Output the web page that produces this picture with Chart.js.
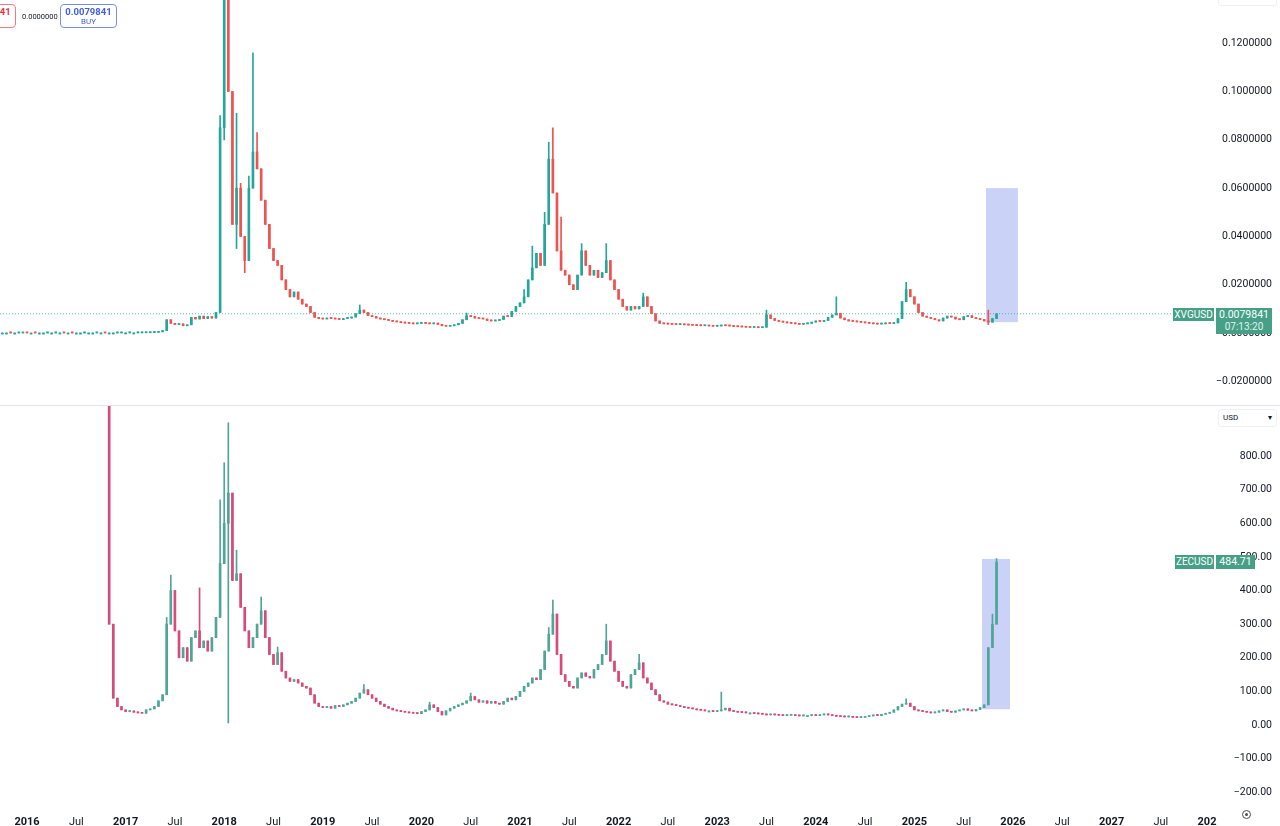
<!DOCTYPE html>
<html>
<head>
<meta charset="utf-8">
<title>XVGUSD / ZECUSD</title>
<script src="https://cdn.jsdelivr.net/npm/chart.js@4.4.1/dist/chart.umd.min.js"></script>
<style>
    body { margin: 0; width: 1280px; height: 826px; overflow: hidden; background: #fff; position: relative; font-family: Roboto, "Liberation Sans", sans-serif; color: #131722; }
    .pane { position: absolute; left: 0; width: 1280px; }
    #top-pane { top: 0; height: 405px; }
    #bottom-pane { top: 405px; height: 421px; }
    .sep { position: absolute; left: 0; top: 405px; width: 1280px; height: 1px; background: #e0e3eb; }
    .trade-btn { position: absolute; top: 4px; width: 55px; height: 22px; border: 1px solid; border-radius: 4px; background: #fff; text-align: center; line-height: 10px; }
    .trade-btn b { display: block; font-size: 9.5px; margin-top: 2px; }
    .trade-btn span { display: block; font-size: 8px; }
    .sell { left: -41px; border-color: #f07a82; color: #e8323f; }
    .buy { left: 60px; border-color: #7d8ee8; color: #4460dc; }
    .spread { position: absolute; left: 22px; top: 12px; font-size: 7.5px; }
    .tag { position: absolute; background: #46a088; color: #fff; font-size: 10px; line-height: 13px; text-align: center; }
    .dropdown { position: absolute; left: 1218px; width: 57px; border: 1px solid #eef0f5; border-radius: 3px; background: #fff; font-size: 8px; }
    .axis-cover { position: absolute; left: 1217px; top: 803px; width: 63px; height: 23px; background: #fff; }
    .gear { position: absolute; left: 1242px; top: 810px; width: 7px; height: 7px; border: 1.5px solid #4a4e59; border-radius: 50%; }
    .gear::after { content: ""; position: absolute; left: 2px; top: 2px; width: 3px; height: 3px; background: #4a4e59; border-radius: 50%; }
</style>
</head>
<body>
<div class="pane" id="top-pane"><canvas id="xvg-chart" width="1280" height="405"></canvas></div>
<div class="pane" id="bottom-pane"><canvas id="zec-chart" width="1280" height="421"></canvas></div>
<div class="sep"></div>

<div class="trade-btn sell"><b>0.0079841</b><span>SELL</span></div>
<div class="spread">0.0000000</div>
<div class="trade-btn buy"><b>0.0079841</b><span>BUY</span></div>

<div class="dropdown" style="top:-12px;height:16px"></div>
<div class="dropdown" style="top:409px;height:16px;line-height:16px"><span style="margin-left:4px">USD</span><span style="float:right;margin-right:4px">▾</span></div>

<div class="tag" id="xvg-name" style="left:1173px;width:41px">XVGUSD</div>
<div class="tag" id="xvg-price" style="left:1216px;width:56px;height:25px;line-height:12px;padding-top:1px;font-size:10.5px">0.0079841<br><span style="font-size:10px;opacity:.85">07:13:20</span></div>
<div class="tag" id="zec-name" style="left:1175px;width:39px;height:14px;line-height:14px">ZECUSD</div>
<div class="tag" id="zec-price" style="left:1216px;width:39px;height:14px;line-height:14px;font-size:10.5px">484.71</div>

<div class="axis-cover"></div>
<div class="gear"></div>

<script>
// time axis: candles are half-month periods counted from firstPeriodYear
const firstPeriodYear = 2015.75;
const periodsPerYear = 24;
const timeMin = 2015.726;
const timeMax = 2028.049;
const timeTickStart = 2016;
const timeLabels = ["2016", "Jul", "2017", "Jul", "2018", "Jul", "2019", "Jul", "2020", "Jul", "2021", "Jul", "2022", "Jul",
    "2023", "Jul", "2024", "Jul", "2025", "Jul", "2026", "Jul", "2027", "Jul", "2028"];

const xvgTicks = [-0.02, 0, 0.02, 0.04, 0.06, 0.08, 0.1, 0.12];
const xvgRange = [-0.0298, 0.1379];
const zecTicks = [-200, -100, 0, 100, 200, 300, 400, 500, 600, 700, 800];
const zecRange = [-229, 952];

// XVGUSD closes, period 0 .. 242
const xvgFirstPeriod = 0;
const xvgFirstOpen = 0.00003;
const xvgClose = [
    0.00003, 0.00003, 0.00002, 0.00002, 0.00003, 0.00004, 0.00003, 0.00003, 0.00002, 0.00002,
    0.00002, 0.00003, 0.00003, 0.00004, 0.00004, 0.00003, 0.00003, 0.00002, 0.00002, 0.00002,
    0.00003, 0.00003, 0.00003, 0.00004, 0.00004, 0.00003, 0.00003, 0.00003, 0.00004, 0.00005,
    0.00005, 0.00006, 0.00006, 0.00008, 0.00010, 0.00012, 0.00020, 0.00030, 0.00050, 0.0010,
    0.0055, 0.0040, 0.0035, 0.0038, 0.0030, 0.0034, 0.0065, 0.0058, 0.0070, 0.0060, 0.0068, 0.0062, 0.0085,
    0.085, 0.150, 0.100, 0.045, 0.060, 0.040, 0.030, 0.060, 0.075, 0.068, 0.055, 0.045, 0.035, 0.030, 0.028,
    0.022, 0.018, 0.015, 0.017, 0.014, 0.012, 0.011, 0.0085, 0.0065, 0.0060,
    0.0058, 0.0062, 0.0060, 0.0058, 0.0056, 0.0060, 0.0062, 0.0066, 0.0080, 0.0095, 0.0085, 0.0072,
    0.0068, 0.0062, 0.0058, 0.0055, 0.0052, 0.0048, 0.0046, 0.0043, 0.0041, 0.0040, 0.0038, 0.0040,
    0.0042, 0.0040, 0.0038, 0.0041, 0.0036, 0.0030, 0.0028, 0.0030, 0.0034, 0.0040, 0.0055, 0.0072,
    0.0068, 0.0062, 0.0060, 0.0058, 0.0052, 0.0050, 0.0052, 0.0056, 0.0070, 0.0068, 0.0090, 0.0110,
    0.0125, 0.0150, 0.0220, 0.0270, 0.0330, 0.0280, 0.0450, 0.0720, 0.0580, 0.0340,
    0.0260, 0.0240, 0.0200, 0.0180, 0.0240, 0.0340, 0.0280, 0.0240, 0.0260, 0.0230,
    0.0250, 0.0300, 0.0220, 0.0180, 0.0140, 0.0110, 0.0095, 0.0110, 0.0100, 0.0110,
    0.0150, 0.0110, 0.0080, 0.0050, 0.0040,
    0.0038, 0.0037, 0.0036, 0.0035, 0.0036, 0.0034, 0.0033, 0.0032, 0.0031, 0.0030, 0.0031, 0.0029, 0.0028,
    0.0029, 0.0031, 0.0030, 0.0029, 0.0027, 0.0026, 0.0025, 0.0024, 0.0023, 0.0024, 0.0022, 0.0024,
    0.0075, 0.0060, 0.0052, 0.0048, 0.0045, 0.0042, 0.0040, 0.0038, 0.0036, 0.0038, 0.0040, 0.0045, 0.0050,
    0.0048, 0.0052, 0.0065, 0.0075, 0.0082, 0.0062, 0.0055, 0.0050, 0.0048, 0.0046, 0.0044, 0.0042, 0.0040,
    0.0038, 0.0037, 0.0038, 0.0040, 0.0039, 0.0042,
    0.0060, 0.0130, 0.0180, 0.0150, 0.0120, 0.0085, 0.0070, 0.0065, 0.0060, 0.0055, 0.0050, 0.0062, 0.0070,
    0.0066, 0.0058, 0.0055, 0.0068, 0.0072, 0.0064, 0.0060, 0.0056, 0.0050, 0.0045, 0.0060, 0.0079841
];
// [period, value] wick extremes that stand out of the bodies
const xvgHigh = [[53, 0.090], [54, 0.260], [55, 0.160], [57, 0.091], [58, 0.062], [60, 0.065], [61, 0.116], [62, 0.083],
    [87, 0.0116], [113, 0.0083], [127, 0.018], [129, 0.036], [132, 0.050], [133, 0.079], [134, 0.085], [136, 0.048],
    [141, 0.037], [147, 0.037], [156, 0.0165], [186, 0.0095], [203, 0.015], [220, 0.021], [240, 0.0095]];
const xvgLow = [[54, 0.080], [57, 0.035], [59, 0.025], [240, 0.0035]];
const xvgLast = 0.0079841;
const xvgBox = [2025.726, 2026.05, 0.0045, 0.060];

// ZECUSD closes, period 26 .. 242
const zecFirstPeriod = 26;
const zecFirstOpen = 2500;
const zecClose = [
    300, 80, 55, 45, 40, 42, 38, 36, 35, 45, 48, 55, 72, 90,
    300, 400, 280, 200, 230, 190, 260, 280, 230, 250, 220, 260, 320,
    480, 600, 690, 430, 450, 350, 280, 230, 260, 300, 340, 260, 210, 180, 215, 160, 140, 130, 135, 125, 115, 110, 90, 65, 55,
    52, 55, 50, 58, 55, 60, 65, 70, 80, 95, 105, 90, 80, 70, 62, 55, 50, 45, 42, 40, 38, 36, 35, 34,
    40, 45, 60, 52, 40, 30, 42, 50, 55, 60, 65, 72, 85, 75, 68, 72, 65, 70, 65, 62, 70, 80, 75, 85,
    100, 115, 125, 140, 135, 165, 220, 270, 330, 210, 150, 130, 115, 110, 140, 155, 145, 140, 165, 180,
    210, 250, 190, 160, 130, 115, 110, 150, 165, 185, 140, 125, 105, 90, 72,
    68, 62, 60, 58, 55, 52, 50, 48, 45, 44, 42, 42, 40, 42, 45, 50, 42, 40, 38, 37, 36, 36, 34, 33, 32,
    30, 31, 30, 29, 28, 29, 30, 28, 27, 28, 28, 30, 28, 30, 32, 30, 28, 26, 25, 24, 25, 23, 22, 23, 25, 27,
    30, 28, 32, 35, 38, 45,
    55, 62, 65, 55, 45, 42, 40, 38, 36, 38, 42, 45, 40, 38, 42, 45, 48, 44, 42, 46, 52, 60, 230, 300, 484.71
];
const zecHigh = [[26, 5000], [40, 320], [41, 446], [48, 408], [53, 670], [54, 780], [55, 899], [57, 520], [63, 381],
    [67, 232], [88, 120], [104, 68], [114, 95], [133, 290], [134, 372], [147, 300], [155, 210], [175, 98],
    [220, 78], [241, 330], [242, 495]];
const zecLow = [[55, 6]];
const zecLast = 484.71;
const zecBox = [2025.686, 2025.97, 47, 494];

Chart.defaults.font.family = "Roboto, 'Liberation Sans', sans-serif";
Chart.defaults.font.size = 10.5;
Chart.defaults.color = "#131722";

function buildCandles(firstPeriod, firstOpen, closes, highs, lows) {
    const highMap = new Map(highs);
    const lowMap = new Map(lows);
    const bodies = [];
    const wicks = [];
    const rising = [];
    closes.forEach((close, i) => {
        const period = firstPeriod + i;
        const open = i === 0 ? firstOpen : closes[i - 1];
        const x = firstPeriodYear + period / periodsPerYear;
        const hi = highMap.has(period) ? highMap.get(period) : Math.max(open, close);
        const lo = lowMap.has(period) ? lowMap.get(period) : Math.min(open, close);
        bodies.push({ x, y: [open, close] });
        wicks.push({ x, y: [lo, hi] });
        rising.push(close >= open);
    });
    return { bodies, wicks, rising };
}

function priceLabel(value, digits) {
    const text = Math.abs(value).toFixed(digits);
    return value < 0 ? "\u2212" + text : text;
}

const highlightPlugin = {
    id: "highlight",
    beforeDatasetsDraw(chart, args, opts) {
        const { ctx, scales: { x, y } } = chart;
        const [t0, t1, v0, v1] = opts.box;
        const left = x.getPixelForValue(t0);
        const top = y.getPixelForValue(v1);
        ctx.save();
        ctx.fillStyle = opts.color;
        ctx.fillRect(left, top, x.getPixelForValue(t1) - left, y.getPixelForValue(v0) - top);
        ctx.restore();
    }
};

function makeChart(canvasId, candles, opts) {
    const colors = candles.rising.map((r) => (r ? opts.up : opts.down));
    const datasets = [
        { type: "bar", data: candles.bodies, order: 0, grouped: false, barThickness: 2, minBarLength: 1, borderWidth: 0, backgroundColor: colors },
        { type: "bar", data: candles.wicks, order: 1, grouped: false, barThickness: 1, minBarLength: 1, borderWidth: 0, backgroundColor: colors }
    ];
    if (opts.lastLine) {
        datasets.push({
            type: "line", order: 2, data: [{ x: timeMin, y: opts.last }, { x: timeMax, y: opts.last }],
            borderColor: "rgba(38,166,154,.75)", borderWidth: 1, borderDash: [1, 2], pointRadius: 0
        });
    }
    return new Chart(document.getElementById(canvasId), {
        type: "bar",
        data: { datasets },
        plugins: [highlightPlugin],
        options: {
            responsive: false,
            animation: false,
            devicePixelRatio: 1,
            layout: { padding: { left: 0, top: 0, bottom: 0, right: 8 }, autoPadding: false },
            plugins: {
                legend: { display: false },
                tooltip: { enabled: false },
                highlight: { box: opts.box, color: "rgba(105,125,235,.35)" }
            },
            scales: {
                x: {
                    type: "linear", min: timeMin, max: timeMax, display: opts.showTime, offset: false,
                    grid: { display: false }, border: { display: false },
                    afterBuildTicks: (scale) => { scale.ticks = timeLabels.map((_, i) => ({ value: timeTickStart + i / 2 })); },
                    afterFit: (scale) => {
                        scale.height = opts.showTime ? 24 : 0;
                        scale.paddingLeft = 0;
                        scale.paddingRight = 0;
                    },
                    ticks: {
                        padding: 6, maxRotation: 0, autoSkip: false,
                        callback: (value, index) => timeLabels[index],
                        font: (ctx) => ({ size: 11, weight: ctx.index % 2 === 0 ? "bold" : "normal" })
                    }
                },
                y: {
                    position: "right", min: opts.range[0], max: opts.range[1],
                    grid: { display: false, drawTicks: false }, border: { display: false },
                    afterBuildTicks: (scale) => { scale.ticks = opts.ticks.map((v) => ({ value: v })); },
                    afterFit: (scale) => {
                        scale.width = 57;
                        scale.paddingTop = 0;
                        scale.paddingBottom = 0;
                    },
                    ticks: { padding: 2, crossAlign: "far", callback: (value) => priceLabel(value, opts.digits) }
                }
            }
        }
    });
}

const xvgChart = makeChart("xvg-chart", buildCandles(xvgFirstPeriod, xvgFirstOpen, xvgClose, xvgHigh, xvgLow), {
    up: "#26a69a", down: "#ef5350", range: xvgRange, ticks: xvgTicks, digits: 7,
    box: xvgBox, last: xvgLast, lastLine: true, showTime: false
});
const zecChart = makeChart("zec-chart", buildCandles(zecFirstPeriod, zecFirstOpen, zecClose, zecHigh, zecLow), {
    up: "#4fa597", down: "#d8497c", range: zecRange, ticks: zecTicks, digits: 2,
    box: zecBox, last: zecLast, lastLine: false, showTime: true
});

// price tags follow the last value on each scale
const xvgY = xvgChart.scales.y.getPixelForValue(xvgLast);
document.getElementById("xvg-name").style.top = `${Math.round(xvgY - 6)}px`;
document.getElementById("xvg-price").style.top = `${Math.round(xvgY - 6)}px`;
const zecY = 405 + zecChart.scales.y.getPixelForValue(zecLast);
document.getElementById("zec-name").style.top = `${Math.round(zecY - 7)}px`;
document.getElementById("zec-price").style.top = `${Math.round(zecY - 7)}px`;
</script>
</body>
</html>
